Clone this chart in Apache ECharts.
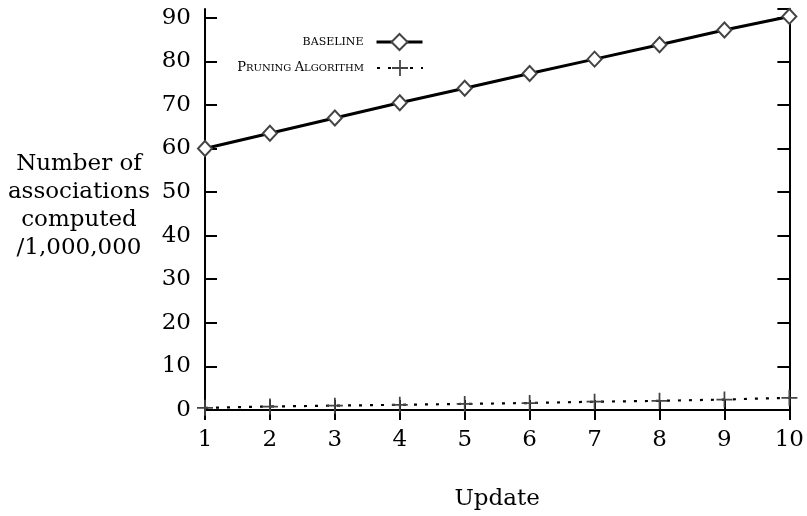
<!DOCTYPE html>
<html>
<head>
<meta charset="utf-8">
<script src="https://cdn.jsdelivr.net/npm/echarts@6/dist/echarts.min.js"></script>
<style>html,body{margin:0;padding:0;background:#fff;}#c{width:807px;height:516px;}</style>
</head>
<body>
<div id="c"></div>
<script>
const updates = [1, 2, 3, 4, 5, 6, 7, 8, 9, 10];
const baseline = [60, 63.5, 67, 70.5, 73.8, 77.2, 80.5, 83.8, 87.2, 90.3];
const pruning = [0.5, 0.8, 1.0, 1.2, 1.4, 1.6, 1.9, 2.1, 2.4, 2.8];
const yTicks = [0, 10, 20, 30, 40, 50, 60, 70, 80, 90];
const xTicks = [1, 2, 3, 4, 5, 6, 7, 8, 9, 10];

const FONT = 'DejaVu Serif';
const chart = echarts.init(document.getElementById('c'));
const pts = a => updates.map((u, i) => [u, a[i]]);
const cross = 'path://M0,4.45h10v1.1h-10zM4.45,0h1.1v10h-1.1z';

const axisLine = {show: true, lineStyle: {color: '#000', width: 2}};
chart.setOption({
  animation: false,
  grid: {left: 205, right: 17, top: 9, bottom: 106},
  xAxis: [{
    type: 'value', min: 1, max: 10, interval: 1, position: 'bottom',
    axisLine: axisLine,
    axisTick: {show: true, inside: true, length: 10, lineStyle: {color: '#000', width: 2}},
    axisLabel: {margin: 19, color: '#000', fontFamily: FONT, fontSize: 23,
      formatter: v => xTicks.includes(v) ? String(v) : ''},
    splitLine: {show: false},
    name: 'Update', nameLocation: 'middle', nameGap: 78,
    nameTextStyle: {color: '#000', fontFamily: FONT, fontSize: 23}
  }, {
    type: 'value', min: 1, max: 10, interval: 1, position: 'top',
    axisLine: axisLine,
    axisTick: {show: true, inside: true, length: 10, lineStyle: {color: '#000', width: 2}},
    axisLabel: {show: false}, splitLine: {show: false}
  }],
  yAxis: [{
    type: 'value', min: 0, max: 92, interval: 10, position: 'left',
    axisLine: axisLine,
    axisTick: {show: true, inside: true, length: 12, lineStyle: {color: '#000', width: 2}},
    axisLabel: {margin: 14, color: '#000', fontFamily: FONT, fontSize: 23, showMaxLabel: false,
      formatter: v => yTicks.includes(v) ? String(v) : ''},
    splitLine: {show: false}
  }, {
    type: 'value', min: 0, max: 92, interval: 10, position: 'right',
    axisLine: axisLine,
    axisTick: {show: true, inside: true, length: 12, lineStyle: {color: '#000', width: 2}},
    axisLabel: {show: false}, splitLine: {show: false}
  }],
  legend: [{
    data: ['BASELINE'], orient: 'vertical', align: 'right', padding: 0,
    right: 383, top: 33, itemWidth: 46, itemHeight: 20,
    lineStyle: {width: 3},
    formatter: () => '{s|BASELINE}',
    textStyle: {padding: [0, 8, 0, 0], rich: {s: {fontFamily: FONT, fontSize: 11, color: '#000'}}}
  }, {
    data: ['Pruning Algorithm'], orient: 'vertical', align: 'right', padding: 0,
    right: 383, top: 60, itemWidth: 46, itemHeight: 20,
    formatter: () => '{b|P}{s|RUNING} {b|A}{s|LGORITHM}',
    textStyle: {padding: [0, 8, 0, 0], rich: {
      b: {fontFamily: FONT, fontSize: 13, color: '#000'},
      s: {fontFamily: FONT, fontSize: 10, color: '#000'}}}
  }],
  graphic: [{
    type: 'text',
    style: {
      text: 'Number of\nassociations\ncomputed\n/1,000,000',
      x: 79, y: 206, align: 'center', verticalAlign: 'middle',
      font: '23px "DejaVu Serif"', lineHeight: 28, fill: '#000'
    }
  }],
  series: [{
    name: 'BASELINE', type: 'line', data: pts(baseline),
    symbol: 'emptyDiamond', symbolSize: [14, 15],
    lineStyle: {color: '#000', width: 3},
    itemStyle: {color: '#444', borderColor: '#444', borderWidth: 1.2},
    z: 3
  }, {
    name: 'Pruning Algorithm', type: 'line', data: pts(pruning),
    symbol: cross, symbolSize: 16, symbolKeepAspect: true,
    lineStyle: {color: '#000', width: 2.2, type: [3, 8]},
    itemStyle: {color: '#444'},
    z: 3
  }]
});
</script>
</body>
</html>
